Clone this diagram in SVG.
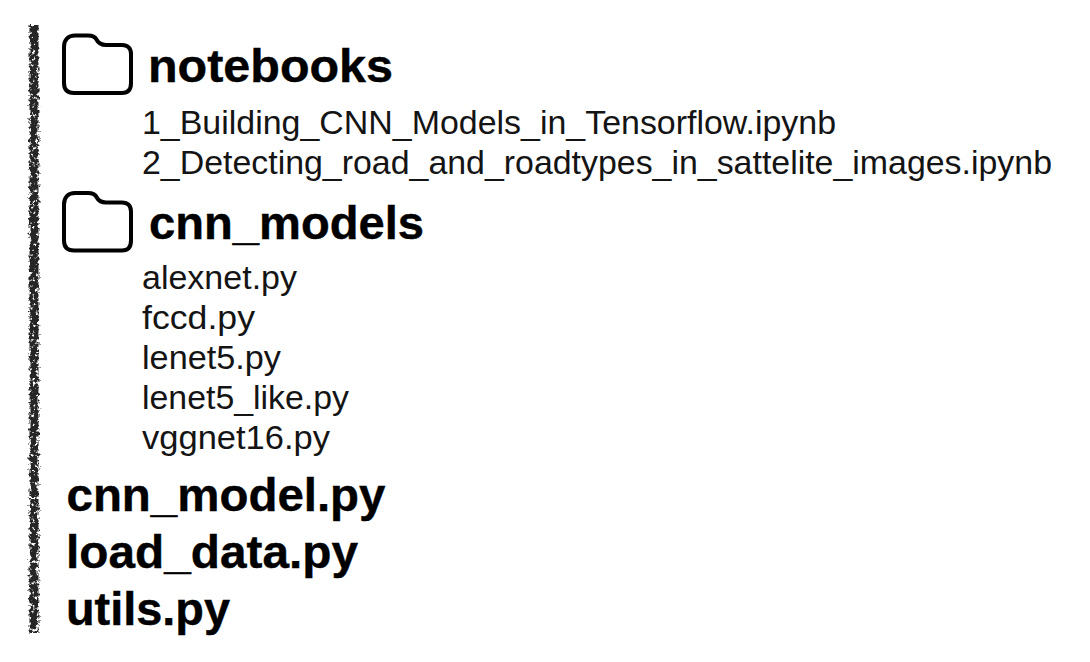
<svg xmlns="http://www.w3.org/2000/svg" width="1090" height="662" viewBox="0 0 1090 662">
<style>
text{font-family:"Liberation Sans",Arial,sans-serif}
.h{font-size:46px;font-weight:700;fill:#000;stroke:#000;stroke-width:.4}
.f{font-size:32.5px;fill:#141414}
.folder{fill:#fff;stroke:#000;stroke-width:4;stroke-linejoin:round}
</style>
<defs>
<filter id="rough" x="-200%" y="-2%" width="500%" height="104%" color-interpolation-filters="sRGB">
<feTurbulence type="fractalNoise" baseFrequency="0.28" numOctaves="3" seed="4" result="n"/>
<feDisplacementMap in="SourceGraphic" in2="n" scale="7" xChannelSelector="R" yChannelSelector="G" result="d"/>
<feGaussianBlur in="d" stdDeviation="0.6" result="b"/>
<feColorMatrix in="n" type="matrix" values="0 0 0 0 0 0 0 0 0 0 0 0 0 0 0 0 0 0 7 -1.9" result="m"/>
<feComposite in="b" in2="m" operator="in"/>
</filter>
<path id="fd" d="M75 35.500H88C93 35.500 95 36.500 96.500 39.500C98.500 43.500 101 45 106 45H122C128 45 131 48.500 131 54V83C131 89.500 128 93 122 93H74C67.500 93 64 89.500 64 83V47C64 40 68 35.500 75 35.500Z"/>
</defs>
<rect id="bar" x="29.500" y="25" width="9" height="608" fill="#262626" filter="url(#rough)"/>
<g id="notebooks"><use href="#fd" class="folder"/><text class="h" x="148" y="82" textLength="245" lengthAdjust="spacingAndGlyphs">notebooks</text></g>
<g id="notebook-files">
<text class="f" x="142" y="134" textLength="694" lengthAdjust="spacingAndGlyphs">1_Building_CNN_Models_in_Tensorflow.ipynb</text>
<text class="f" x="142" y="174" textLength="910" lengthAdjust="spacingAndGlyphs">2_Detecting_road_and_roadtypes_in_sattelite_images.ipynb</text>
</g>
<g id="cnn_models"><use href="#fd" class="folder" y="157.500"/><text class="h" x="149" y="238.500" textLength="275" lengthAdjust="spacingAndGlyphs">cnn_models</text></g>
<g id="cnn-files">
<text class="f" x="142" y="289" textLength="155" lengthAdjust="spacingAndGlyphs">alexnet.py</text>
<text class="f" x="142" y="329" textLength="113" lengthAdjust="spacingAndGlyphs">fccd.py</text>
<text class="f" x="142" y="369" textLength="139" lengthAdjust="spacingAndGlyphs">lenet5.py</text>
<text class="f" x="142" y="409" textLength="207" lengthAdjust="spacingAndGlyphs">lenet5_like.py</text>
<text class="f" x="142" y="449" textLength="188" lengthAdjust="spacingAndGlyphs">vggnet16.py</text>
</g>
<g id="cnn_model"><text class="h" x="66.500" y="510.500" textLength="319" lengthAdjust="spacingAndGlyphs">cnn_model.py</text></g>
<g id="load_data"><text class="h" x="66" y="568" textLength="292" lengthAdjust="spacingAndGlyphs">load_data.py</text></g>
<g id="utils"><text class="h" x="66" y="625" textLength="164" lengthAdjust="spacingAndGlyphs">utils.py</text></g>
</svg>
